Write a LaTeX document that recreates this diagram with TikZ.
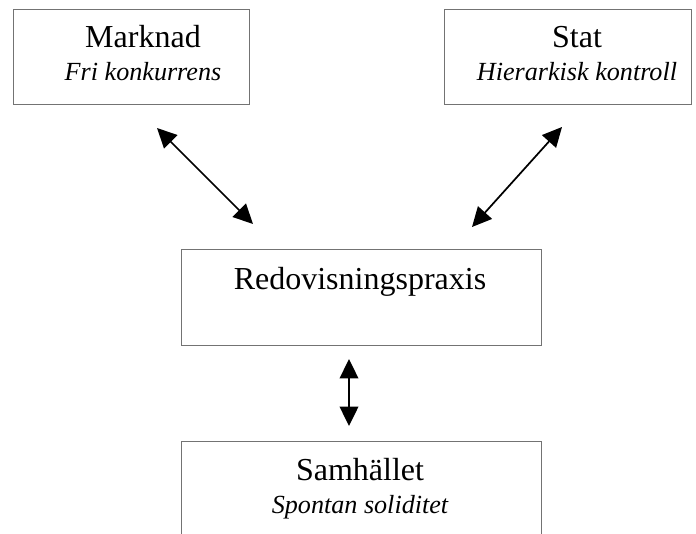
\documentclass[tikz,border=0pt]{standalone}
\usepackage{fontspec}
\setmainfont{Liberation Serif}
\usetikzlibrary{arrows.meta}
\begin{document}
\begin{tikzpicture}[x=0.375pt,y=-0.375pt,
  box/.style={draw=black!55,line width=0.55pt,rectangle,inner sep=0pt,anchor=north west},
  title/.style={anchor=base,font=\fontsize{12}{14}\selectfont,inner sep=0pt},
  sub/.style={anchor=base,font=\fontsize{9.8}{12}\selectfont\itshape,inner sep=0pt},
  link/.style={line width=0.65pt,{Triangle[length=7.3pt,width=7pt]}-{Triangle[length=7.3pt,width=7pt]}}]
\clip (0,0) rectangle (696,533);
\fill[white] (0,0) rectangle (696,533);
% boxes
\node[box,minimum width=88.5pt,minimum height=35.6pt] (mark) at (12.7,9) {};
\node[box,minimum width=92.5pt,minimum height=35.6pt] (stat) at (444,9) {};
\node[box,minimum width=135.1pt,minimum height=36pt] (redo) at (180.7,249) {};
\node[box,minimum width=135.1pt,minimum height=60pt] (samh) at (180.7,440.7) {};
% texts
\node[title] (markt) at (143,47) {Marknad};
\node[sub] (marks) at (143,80) {Fri konkurrens};
\node[title] (statt) at (577,47) {Stat};
\node[sub] (stats) at (577,80) {Hierarkisk kontroll};
\node[title] (redot) at (360,289) {Redovisningspraxis};
\node[title] (samht) at (360,480) {Samhället};
\node[sub] (samhs) at (360,513) {Spontan soliditet};
% arrow ends
\coordinate (a1) at (157,128);
\coordinate (a2) at (253,224);
\coordinate (b1) at (562,127);
\coordinate (b2) at (472,227);
\coordinate (c1) at (349,359);
\coordinate (c2) at (349,426);
\draw[link] (a1) -- (a2);
\draw[link] (b1) -- (b2);
\draw[link] (c1) -- (c2);
\end{tikzpicture}
\end{document}
